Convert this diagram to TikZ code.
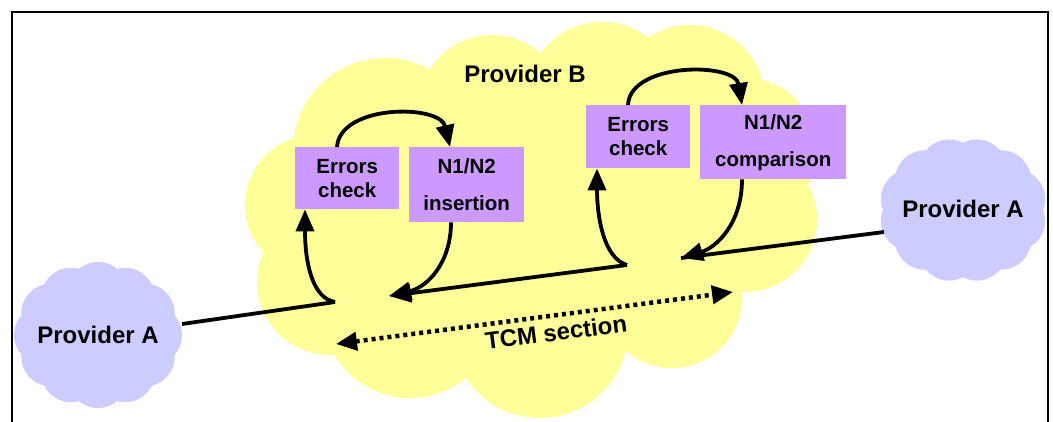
\documentclass[tikz,border=0pt]{standalone}
\usepackage{fontspec}
\setmainfont{Liberation Sans}
\usetikzlibrary{arrows.meta}
\definecolor{cloudY}{HTML}{FFFF99}
\definecolor{cloudA}{HTML}{CCCCFF}
\definecolor{boxP}{HTML}{CC99FF}
\tikzset{
  pbox/.style={fill=boxP, inner sep=0pt, align=center, anchor=north west,
    font=\bfseries\fontsize{20.5}{24}\selectfont},
  pboxwide/.style={pbox, font=\bfseries\fontsize{20.5}{37}\selectfont},
  lbl/.style={font=\bfseries\fontsize{24}{28}\selectfont, inner sep=0pt},
  conn/.style={line width=3.8pt},
  tip/.style={-{Triangle[length=22pt,width=18pt]}},
  dotline/.style={line width=4.5pt, dash pattern=on 4pt off 4pt,
    {Triangle[length=21pt,width=18pt]}-{Triangle[length=21pt,width=18pt]}},
  frame/.style={line width=2.5pt}
}
\begin{document}
\begin{tikzpicture}[x=1pt,y=-1pt]
\useasboundingbox (0,0) rectangle (1053,421);
% frame
\draw[frame] (12,425) -- (12,12) -- (1048,12) -- (1048,425);
% yellow cloud (Provider B)
\fill[cloudY] (385,150) circle[radius=92pt] (492,108) circle[radius=73pt]
  (602,98) circle[radius=76pt] (690,100) circle[radius=75pt]
  (745,150) circle[radius=72pt] (745,220) circle[radius=72pt]
  (672,298) circle[radius=70pt] (540,330) circle[radius=88pt]
  (410,310) circle[radius=88pt] (330,282) circle[radius=73pt]
  (315,205) circle[radius=70pt] (540,210) ellipse[x radius=200pt, y radius=120pt];
% Provider A clouds
\foreach \a in {0,30,...,330}
  \fill[cloudA] ({98+54*cos(\a)},{335+43*sin(\a)}) circle[radius=30pt];
\fill[cloudA] (98,335) ellipse[x radius=62pt, y radius=50pt];
\foreach \a in {15,45,...,345}
  \fill[cloudA] ({963+54*cos(\a)},{210+42*sin(\a)}) circle[radius=30pt];
\fill[cloudA] (963,210) ellipse[x radius=62pt, y radius=50pt];
% labels
\node[lbl] (pa1) at (98,335) {Provider A};
\node[lbl] (pa2) at (963,208.5) {Provider A};
\node[lbl] (pb) at (525,73.5) {Provider B};
% boxes
\node[pbox, minimum width=104pt, minimum height=62pt] (ec1) at (295,147) {Errors\\check};
\node[pboxwide, minimum width=115pt, minimum height=75pt] (ins) at (409,147) {N1/N2\\insertion};
\node[pbox, minimum width=104pt, minimum height=63pt] (ec2) at (586,105) {Errors\\check};
\node[pboxwide, minimum width=146pt, minimum height=74pt] (cmp) at (700,105) {N1/N2\\comparison};
% junction coordinates
\coordinate (a1) at (182,324);
\coordinate (j1) at (335,302);
\coordinate (m1) at (389,296);
\coordinate (j2) at (627,265);
\coordinate (m2) at (681,258);
\coordinate (a2) at (884,232);
\coordinate (t1) at (336,344);
\coordinate (t2) at (733,292);
% signal path
\draw[conn] (a1) -- (j1);
\draw[conn, tip] (j2) -- (m1);
\draw[conn] (a2) -- (m2);
% left loop
\draw[conn, tip] (j1) .. controls (312,298) and (305,262) .. ([xshift=10pt]ec1.south west);
\draw[conn, tip] ([xshift=42pt]ec1.north west) .. controls (340,104) and (440,104) .. ([xshift=41pt]ins.north west);
\draw[conn, tip] ([xshift=42pt]ins.south west) .. controls (451,262) and (428,287) .. (m1);
% right loop
\draw[conn, tip] (j2) .. controls (603,258) and (597,215) .. ([xshift=11pt]ec2.south west);
\draw[conn, tip] ([xshift=42pt]ec2.north west) .. controls (630,62) and (735,62) .. ([xshift=42pt]cmp.north west);
\draw[conn, tip] ([xshift=42pt]cmp.south west) .. controls (742,225) and (715,248) .. (m2);
% TCM section
\draw[dotline] (t1) -- (t2);
\node[lbl, rotate=7.2] (tcm) at (556,332) {TCM section};
\end{tikzpicture}
\end{document}
